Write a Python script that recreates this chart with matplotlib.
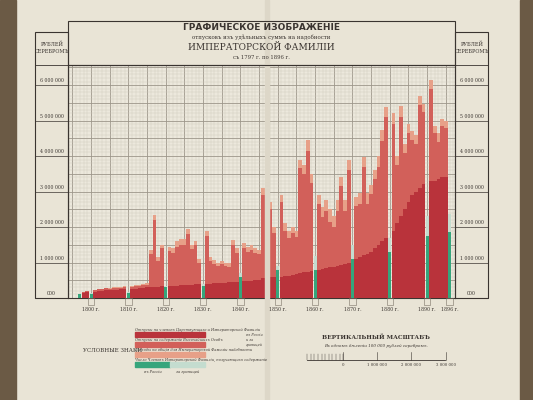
import numpy as np
import matplotlib.pyplot as plt
from matplotlib.patches import Rectangle

# values in millions of rubles, years 1797..1895 (decade years are census columns)
years = list(range(1797, 1896))
total = [0.12, 0.18, 0.20,
         0.15, 0.22, 0.24, 0.25, 0.27, 0.28, 0.30, 0.30, 0.32, 0.34,
         0.30, 0.35, 0.36, 0.38, 0.40, 0.42, 1.35, 2.34, 1.15, 1.50,
         1.30, 1.45, 1.40, 1.60, 1.65, 1.65, 1.95, 1.50, 1.60, 1.10,
         1.00, 1.90, 1.15, 1.07, 1.00, 1.05, 1.00, 0.98, 1.63, 1.40,
         1.30, 1.55, 1.45, 1.50, 1.40, 1.35, 3.10, 1.30, 2.70, 2.00,
         1.80, 2.90, 2.10, 1.90, 2.00, 1.90, 3.90, 3.75, 4.45, 3.50,
         3.30, 2.90, 2.57, 2.75, 2.50, 2.30, 2.75, 3.40, 2.75, 3.90,
         2.60, 2.85, 2.95, 3.98, 2.95, 3.18, 3.60, 4.00, 4.73, 5.39,
         5.00, 5.20, 4.00, 5.40, 4.35, 4.90, 4.70, 4.60, 5.70, 5.48,
         5.10, 6.15, 4.85, 4.65, 5.05, 5.00]
dark = [0.10, 0.15, 0.17,
        0.12, 0.18, 0.20, 0.20, 0.22, 0.22, 0.23, 0.23, 0.24, 0.25,
        0.25, 0.25, 0.26, 0.27, 0.28, 0.30, 0.30, 0.32, 0.32, 0.33,
        0.33, 0.34, 0.35, 0.35, 0.36, 0.37, 0.38, 0.38, 0.40, 0.40,
        0.40, 0.40, 0.40, 0.41, 0.42, 0.42, 0.43, 0.44, 0.45, 0.46,
        0.46, 0.47, 0.48, 0.48, 0.50, 0.50, 0.55, 0.55, 0.58, 0.60,
        0.60, 0.60, 0.62, 0.63, 0.65, 0.67, 0.70, 0.72, 0.74, 0.76,
        0.78, 0.80, 0.82, 0.84, 0.86, 0.88, 0.90, 0.93, 0.96, 1.00,
        1.05, 1.10, 1.15, 1.20, 1.25, 1.30, 1.40, 1.50, 1.60, 1.70,
        1.80, 1.90, 2.10, 2.30, 2.50, 2.70, 2.90, 3.00, 3.10, 3.20,
        3.25, 3.30, 3.30, 3.35, 3.40, 3.40]
light = [0.00, 0.00, 0.00,
         0.00, 0.00, 0.00, 0.00, 0.00, 0.02, 0.02, 0.03, 0.03, 0.03,
         0.03, 0.03, 0.03, 0.04, 0.04, 0.05, 0.10, 0.15, 0.10, 0.10,
         0.10, 0.12, 0.12, 0.15, 0.15, 0.15, 0.15, 0.12, 0.12, 0.10,
         0.10, 0.15, 0.12, 0.10, 0.10, 0.10, 0.10, 0.10, 0.15, 0.12,
         0.12, 0.15, 0.15, 0.15, 0.12, 0.12, 0.20, 0.15, 0.20, 0.18,
         0.18, 0.20, 0.20, 0.20, 0.18, 0.18, 0.25, 0.25, 0.30, 0.25,
         0.25, 0.25, 0.30, 0.30, 0.35, 0.30, 0.30, 0.25, 0.30, 0.30,
         0.25, 0.25, 0.30, 0.30, 0.30, 0.25, 0.25, 0.30, 0.30, 0.30,
         0.30, 0.30, 0.25, 0.30, 0.25, 0.25, 0.25, 0.25, 0.25, 0.25,
         0.25, 0.25, 0.20, 0.25, 0.20, 0.20]
census_years = [1797, 1800, 1810, 1820, 1830, 1840, 1850, 1860, 1870, 1880, 1890, 1896]
census_home = [0.10, 0.12, 0.15, 0.30, 0.35, 0.60, 0.80, 0.80, 1.10, 1.30, 1.75, 1.85]
census_abroad = [0.02, 0.03, 0.03, 0.05, 0.05, 0.10, 0.10, 0.37, 0.38, 0.40, 0.55, 0.52]
decade_labels = ["1800 г.", "1810 г.", "1820 г.", "1830 г.", "1840 г.", "1850 г.",
                 "1860 г.", "1870 г.", "1880 г.", "1890 г.", "1896 г."]
decade_pos = [1800, 1810, 1820, 1830, 1840, 1850, 1860, 1870, 1880, 1890, 1896]
ytick_vals = [0, 1, 2, 3, 4, 5, 6]
ytick_text = ["000", "1 000 000", "2 000 000", "3 000 000", "4 000 000", "5 000 000", "6 000 000"]

PAPER = "#e9e4d6"
C_DARK = "#b9333b"
C_MID = "#d2605a"
C_LIGHT = "#e7a088"
C_GREEN = "#36a57c"
C_PALE = "#c4dccf"
INK = "#3a3430"
SERIF = "DejaVu Serif"

fig = plt.figure(figsize=(5.33, 4.0), dpi=100, facecolor=PAPER)

# book edges
fig.patches.append(Rectangle((0, 0), 0.03, 1, transform=fig.transFigure, color="#6b5a45"))
fig.patches.append(Rectangle((0.975, 0), 0.025, 1, transform=fig.transFigure, color="#6b5a45"))
fig.patches.append(Rectangle((0.497, 0), 0.008, 1, transform=fig.transFigure, color="#ddd7c8"))

ax = fig.add_axes([0.128, 0.255, 0.726, 0.582])
ax.set_facecolor("#ece8dc")

dark_a = np.array(dark)
light_a = np.array(light)
mid_a = np.array(total) - dark_a - light_a
yrs = np.array(years)
mask = np.array([y not in census_years for y in years])
ax.bar(yrs[mask], dark_a[mask], width=1.0, color=C_DARK, zorder=3)
ax.bar(yrs[mask], mid_a[mask], bottom=dark_a[mask], width=1.0, color=C_MID, zorder=3)
ax.bar(yrs[mask], light_a[mask], bottom=(dark_a + mid_a)[mask], width=1.0, color=C_LIGHT, zorder=3)
ax.bar(census_years, census_home, width=0.8, color=C_GREEN, zorder=3)
ax.bar(census_years, census_abroad, bottom=census_home, width=0.8, color=C_PALE, zorder=3)

ax.set_xlim(1793.9, 1897.5)
ax.set_ylim(0, 6.56)
ax.set_xticks(np.arange(1795, 1898, 5))
ax.set_xticks(np.arange(1794, 1898, 1), minor=True)
ax.set_yticks(np.arange(0, 6.6, 0.5))
ax.set_yticks(np.arange(0, 6.6, 0.1), minor=True)
ax.grid(which="major", color="#9d968a", lw=0.6, zorder=1)
ax.grid(which="minor", color="#cfc9bc", lw=0.3, zorder=1)
ax.tick_params(which="both", length=0, labelleft=False, labelbottom=False)
for s in ax.spines.values():
    s.set_color(INK)
    s.set_linewidth(0.8)

# side panels with money scale
for x0 in (0.066, 0.854):
    fig.patches.append(Rectangle((x0, 0.255), 0.062, 0.665, transform=fig.transFigure,
                                 fill=False, ec=INK, lw=0.8))
    fig.lines.append(plt.Line2D([x0, x0 + 0.062], [0.838, 0.838], transform=fig.transFigure,
                                color=INK, lw=0.6))
    fig.text(x0 + 0.031, 0.88, "РУБЛЕЙ\nСЕРЕБРОМЪ", ha="center", va="center",
             fontsize=3.6, color=INK, family=SERIF, linespacing=1.6)
    for v, t in zip(ytick_vals, ytick_text):
        yf = 0.255 + 0.582 * v / 6.56
        fig.text(x0 + 0.031, yf + 0.004, t, ha="center", va="bottom", fontsize=3.4,
                 color=INK, family=SERIF)
        fig.lines.append(plt.Line2D([x0, x0 + 0.062], [yf, yf], transform=fig.transFigure,
                                    color=INK, lw=0.5))

# title
fig.patches.append(Rectangle((0.128, 0.838), 0.726, 0.11, transform=fig.transFigure,
                             fill=False, ec=INK, lw=0.8))
fig.text(0.49, 0.925, "ГРАФИЧЕСКОЕ ИЗОБРАЖЕНІЕ", ha="center", fontsize=6.5,
         weight="bold", color=INK, family="DejaVu Sans")
fig.text(0.49, 0.903, "отпусковъ изъ удѣльныхъ суммъ на надобности", ha="center",
         fontsize=4, color=INK, family=SERIF)
fig.text(0.49, 0.875, "ИМПЕРАТОРСКОЙ ФАМИЛІИ", ha="center", fontsize=6.5,
         color=INK, family=SERIF)
fig.text(0.49, 0.852, "съ 1797 г. по 1896 г.", ha="center", fontsize=3.8,
         color=INK, family=SERIF)

# year labels under axis
for p, t in zip(decade_pos, decade_labels):
    xf = 0.128 + 0.726 * (p - 1793.9) / (1897.5 - 1793.9)
    fig.text(xf, 0.222, t, ha="center", fontsize=3.4, color=INK, family=SERIF)
    fig.patches.append(Rectangle((xf - 0.006, 0.238), 0.012, 0.016, transform=fig.transFigure,
                                 fill=False, ec="#7a7266", lw=0.4))

# legend
fig.text(0.156, 0.123, "УСЛОВНЫЕ ЗНАКИ", fontsize=4.0, color=INK, family=SERIF, va="center")
leg = [(0.158, "Отпуски на членовъ Царствующаго и Императорской Фамиліи", C_DARK),
       (0.133, "Отпуски на содержаніе Высочайшихъ Особъ", C_MID),
       (0.108, "Расходы на общія для Императорской Фамиліи надобности", C_LIGHT)]
BX, BW, BH = 0.253, 0.132, 0.013
for yb, t, c in leg:
    fig.text(BX, yb + BH + 0.002, t, fontsize=2.6, style="italic", color=INK, family=SERIF)
    fig.patches.append(Rectangle((BX, yb), BW, BH, transform=fig.transFigure, color=c))
fig.text(BX, 0.083 + BH + 0.002, "Число Членовъ Императорской Фамиліи, получающихъ содержаніе",
         fontsize=2.6, style="italic", color=INK, family=SERIF)
fig.patches.append(Rectangle((BX, 0.083), 0.066, BH, transform=fig.transFigure, color=C_GREEN))
fig.patches.append(Rectangle((BX + 0.066, 0.083), 0.066, BH, transform=fig.transFigure, color=C_PALE))
fig.text(BX + 0.033, 0.068, "въ Россіи", ha="center", fontsize=2.6, style="italic",
         color=INK, family=SERIF)
fig.text(BX + 0.099, 0.068, "за границей", ha="center", fontsize=2.6, style="italic",
         color=INK, family=SERIF)
fig.text(0.462, 0.15, "въ Россіи\nи за\nграницей", ha="left", va="center", fontsize=2.4,
         style="italic", color=INK, family=SERIF)

# vertical scale
fig.text(0.705, 0.152, "ВЕРТИКАЛЬНЫЙ МАСШТАБЪ", ha="center", fontsize=4.2, weight="bold",
         color=INK, family=SERIF)
fig.text(0.705, 0.132, "Въ одномъ дѣленіи 100 000 рублей серебромъ.", ha="center",
         fontsize=3.0, style="italic", color=INK, family=SERIF)
xs0, xs1 = 0.576, 0.835
fig.lines.append(plt.Line2D([xs0, xs1], [0.1, 0.1], transform=fig.transFigure, color=INK, lw=0.6))
for k in range(11):
    xk = xs0 + k * 0.0068
    fig.lines.append(plt.Line2D([xk, xk], [0.1, 0.115], transform=fig.transFigure, color=INK, lw=0.3))
for k, lab in enumerate(["0", "1 000 000", "2 000 000", "3 000 000"]):
    xk = xs0 + 0.068 + k * 0.064
    fig.lines.append(plt.Line2D([xk, xk], [0.1, 0.12], transform=fig.transFigure, color=INK, lw=0.4))
    fig.text(xk, 0.085, lab, ha="center", fontsize=2.8, color=INK, family=SERIF)

fig.savefig("out.png", dpi=100, facecolor=PAPER)
